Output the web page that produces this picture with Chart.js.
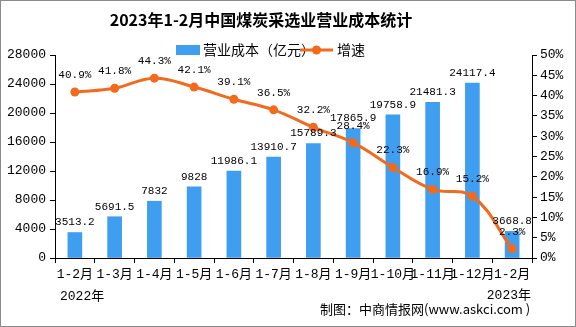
<!DOCTYPE html>
<html>
<head>
<meta charset="utf-8">
<script src="https://cdn.jsdelivr.net/npm/chart.js@4"></script>
<style>
  html, body { margin: 0; padding: 0; background: #fff; }
  #wrap { width: 576px; height: 327px; }
</style>
</head>
<body>
<div id="wrap"><canvas id="chart" width="576" height="327"></canvas></div>
<script>
// ----------------------------
// Data
// ----------------------------
const categories = ["1-2月", "1-3月", "1-4月", "1-5月", "1-6月", "1-7月", "1-8月", "1-9月", "1-10月", "1-11月", "1-12月", "1-2月"];
const costValues = [3513.2, 5691.5, 7832, 9828, 11986.1, 13910.7, 15789.3, 17865.9, 19758.9, 21481.3, 24117.4, 3668.8];
const growthValues = [40.9, 41.8, 44.3, 42.1, 39.1, 36.5, 32.2, 28.4, 22.3, 16.9, 15.2, 2.3];
const costLabels = ["3513.2", "5691.5", "7832", "9828", "11986.1", "13910.7", "15789.3", "17865.9", "19758.9", "21481.3", "24117.4", "3668.8"];
const growthLabels = ["40.9%", "41.8%", "44.3%", "42.1%", "39.1%", "36.5%", "32.2%", "28.4%", "22.3%", "16.9%", "15.2%", "2.3%"];

const titleText = "2023年1-2月中国煤炭采选业营业成本统计";
const legendBar = "营业成本（亿元）";
const legendLine = "增速";
const yearLeft = "2022年";
const yearRight = "2023年";
const sourceText = "制图：中商情报网(www.askci.com )";

// ----------------------------
// Styles
// ----------------------------
const BAR_COLOR = "#3f9ef0";
const LINE_COLOR = "#f26b1d";
const MONO = "'Liberation Mono', 'Noto Sans CJK SC', monospace";
const CJK = "'Noto Sans CJK SC', sans-serif";

// ----------------------------
// Extra drawing: title, legend, labels, footer
// ----------------------------
const decorPlugin = {
  id: "decor",
  afterDatasetsDraw(chart) {
    const ctx = chart.ctx;
    ctx.save();
    ctx.textAlign = "center";
    ctx.textBaseline = "middle";
    ctx.fillStyle = "#000";
    ctx.font = "11px " + MONO;

    // bar value labels
    const barMeta = chart.getDatasetMeta(0);
    barMeta.data.forEach((el, i) => {
      ctx.fillText(costLabels[i], el.x, el.y - 10);
    });

    // line value labels
    const lineMeta = chart.getDatasetMeta(1);
    lineMeta.data.forEach((el, i) => {
      ctx.fillText(growthLabels[i], el.x, el.y - 17);
    });
    ctx.restore();
  },
  afterDraw(chart) {
    const ctx = chart.ctx;
    ctx.save();

    // title
    ctx.fillStyle = "#000";
    ctx.textAlign = "center";
    ctx.textBaseline = "middle";
    ctx.font = "bold 16px " + CJK;
    ctx.fillText(titleText, 261, 20);

    // legend
    ctx.fillStyle = BAR_COLOR;
    ctx.fillRect(176, 45, 24, 10);
    ctx.fillStyle = "#000";
    ctx.textAlign = "left";
    ctx.font = "14px " + CJK;
    ctx.fillText(legendBar, 203, 50);

    ctx.strokeStyle = LINE_COLOR;
    ctx.lineWidth = 3;
    ctx.beginPath();
    ctx.moveTo(300, 50);
    ctx.lineTo(333, 50);
    ctx.stroke();
    ctx.fillStyle = LINE_COLOR;
    ctx.beginPath();
    ctx.arc(316.5, 50, 4.5, 0, Math.PI * 2);
    ctx.fill();
    ctx.fillStyle = "#000";
    ctx.fillText(legendLine, 337, 50);

    // year labels and source
    ctx.font = "13px " + MONO;
    ctx.textAlign = "left";
    ctx.fillText(yearLeft, 60, 297);
    ctx.textAlign = "right";
    ctx.fillText(yearRight, 531, 296);
    ctx.textAlign = "left";
    ctx.font = "13px " + CJK;
    ctx.fillText(sourceText, 320, 309);

    // outer border
    ctx.strokeStyle = "#8a8a8a";
    ctx.lineWidth = 1;
    ctx.strokeRect(0.5, 0.5, chart.width - 1, chart.height - 1);
    ctx.restore();
  }
};

// ----------------------------
// Chart
// ----------------------------
const ctx = document.getElementById("chart").getContext("2d");
new Chart(ctx, {
  type: "bar",
  data: {
    labels: categories,
    datasets: [
      {
        type: "bar",
        label: legendBar,
        data: costValues,
        backgroundColor: BAR_COLOR,
        barThickness: 14,
        yAxisID: "y",
        order: 2
      },
      {
        type: "line",
        label: legendLine,
        data: growthValues,
        borderColor: LINE_COLOR,
        backgroundColor: LINE_COLOR,
        borderWidth: 3,
        pointRadius: 4.5,
        pointBackgroundColor: LINE_COLOR,
        pointBorderWidth: 0,
        tension: 0.4,
        yAxisID: "y1",
        order: 1
      }
    ]
  },
  options: {
    responsive: false,
    animation: false,
    layout: { padding: { top: 55, left: 0, right: 0, bottom: 0 } },
    plugins: {
      legend: { display: false },
      title: { display: false },
      tooltip: { enabled: false }
    },
    scales: {
      x: {
        grid: { offset: true, drawOnChartArea: false, drawTicks: true, tickLength: 5, color: "#000" },
        border: { color: "#000" },
        ticks: { color: "#000", font: { family: MONO, size: 13 }, padding: 4, maxRotation: 0, autoSkip: false },
        afterFit(scale) { scale.height = 69; }
      },
      y: {
        position: "left",
        min: 0,
        max: 28000,
        ticks: { stepSize: 4000, color: "#000", font: { family: MONO, size: 13 }, padding: 4, callback: v => String(v) },
        grid: { drawOnChartArea: false, drawTicks: true, tickLength: 5, color: "#000" },
        border: { color: "#000" },
        afterFit(scale) { scale.width = 55; }
      },
      y1: {
        position: "right",
        min: 0,
        max: 50,
        ticks: { stepSize: 5, color: "#000", font: { family: MONO, size: 13 }, padding: 3, callback: v => v + "%" },
        grid: { drawOnChartArea: false, drawTicks: true, tickLength: 5, color: "#000" },
        border: { color: "#000" },
        afterFit(scale) { scale.width = 44; }
      }
    }
  },
  plugins: [decorPlugin]
});
</script>
</body>
</html>
